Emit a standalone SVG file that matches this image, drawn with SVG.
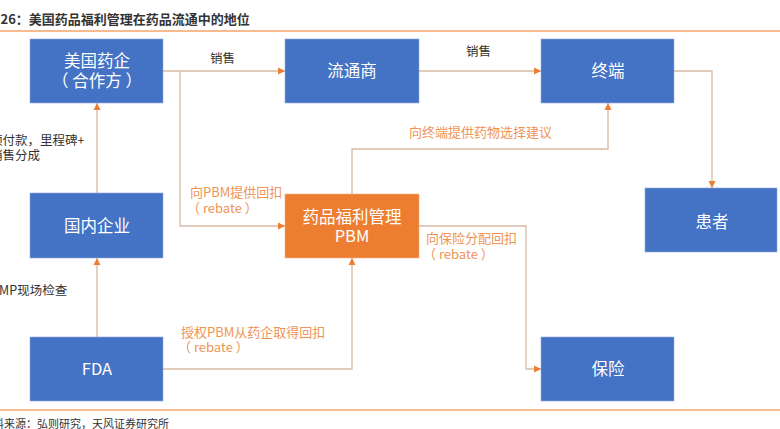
<svg xmlns="http://www.w3.org/2000/svg" width="780" height="429" viewBox="0 0 780 429">
<style>
text{font-family:"Noto Sans CJK SC","Noto Sans",sans-serif;}
.box{fill:#4472C4;stroke:#8FAADC;stroke-width:0.6;}
.pbm{fill:#ED7D31;stroke:#F4B183;stroke-width:0.6;}
.nt{fill:#FFFFFF;font-size:16.5px;text-anchor:middle;}
.lb{fill:#333333;font-size:12.5px;}
.ol{fill:#EF9455;font-size:13px;}
.cn{fill:none;stroke:#D8B9A4;stroke-width:1.3;}
.rule{stroke:#F4A46A;stroke-width:1.6;}
</style>
<defs>
<marker id="ah" markerUnits="userSpaceOnUse" markerWidth="8" markerHeight="8" refX="7" refY="4" orient="auto">
<path d="M0,0.5 L7,4 L0,7.5 Z" fill="#ED7D31"/>
</marker>
</defs>
<text x="0.5" y="24" fill="#333333" font-size="13" font-weight="bold">26：美国药品福利管理在药品流通中的地位</text>
<line class="rule" x1="0" y1="31" x2="780" y2="31"/>
<line class="rule" x1="0" y1="410" x2="780" y2="410"/>
<g id="connectors">
<path class="cn" d="M163,71 H285" marker-end="url(#ah)"/>
<path class="cn" d="M180,71 V226 H285" marker-end="url(#ah)"/>
<path class="cn" d="M419,71 H541" marker-end="url(#ah)"/>
<path class="cn" d="M674,71 H712 V188" marker-end="url(#ah)"/>
<path class="cn" d="M352,194 V149 H608 V103" marker-end="url(#ah)"/>
<path class="cn" d="M419,226 H526 V369 H541" marker-end="url(#ah)"/>
<path class="cn" d="M163,369 H352 V258" marker-end="url(#ah)"/>
<path class="cn" d="M97,337 V258" marker-end="url(#ah)"/>
<path class="cn" d="M97,193 V103" marker-end="url(#ah)"/>
</g>
<g id="labels">
<text class="lb" x="210" y="63">销售</text>
<text class="lb" x="466" y="56">销售</text>
<text class="lb" x="-10" y="145">预付款，里程碑+</text>
<text class="lb" x="-10" y="160">销售分成</text>
<text class="lb" x="-9.5" y="295">GMP现场检查</text>
<text class="ol" x="190" y="197">向PBM提供回扣</text>
<text class="ol" x="187" y="213">（ rebate ）</text>
<text class="ol" x="409" y="137">向终端提供药物选择建议</text>
<text class="ol" x="426" y="243">向保险分配回扣</text>
<text class="ol" x="423" y="259">（ rebate ）</text>
<text class="ol" x="181" y="337">授权PBM从药企取得回扣</text>
<text class="ol" x="178" y="352">（ rebate ）</text>
</g>
<g id="n-pharma">
<rect class="box" x="30" y="39" width="133" height="64"/>
<text class="nt" x="97" y="67">美国药企</text>
<text class="nt" x="97" y="87">（ 合作方 ）</text>
</g>
<g id="n-distributor">
<rect class="box" x="285" y="39" width="134" height="64"/>
<text class="nt" x="352" y="77">流通商</text>
</g>
<g id="n-terminal">
<rect class="box" x="541" y="39" width="133" height="64"/>
<text class="nt" x="608" y="77">终端</text>
</g>
<g id="n-patient">
<rect class="box" x="645" y="188" width="132" height="64"/>
<text class="nt" x="712" y="228">患者</text>
</g>
<g id="n-domestic">
<rect class="box" x="30" y="193" width="133" height="65"/>
<text class="nt" x="97" y="232">国内企业</text>
</g>
<g id="n-pbm">
<rect class="pbm" x="285" y="194" width="134" height="64"/>
<text class="nt" x="352" y="223">药品福利管理</text>
<text class="nt" x="352" y="242">PBM</text>
</g>
<g id="n-fda">
<rect class="box" x="30" y="337" width="133" height="64"/>
<text class="nt" x="97" y="375">FDA</text>
</g>
<g id="n-insurance">
<rect class="box" x="541" y="337" width="133" height="64"/>
<text class="nt" x="608" y="375">保险</text>
</g>
<text x="-18" y="428" fill="#333333" font-size="11">资料来源：弘则研究，天风证券研究所</text>
</svg>
